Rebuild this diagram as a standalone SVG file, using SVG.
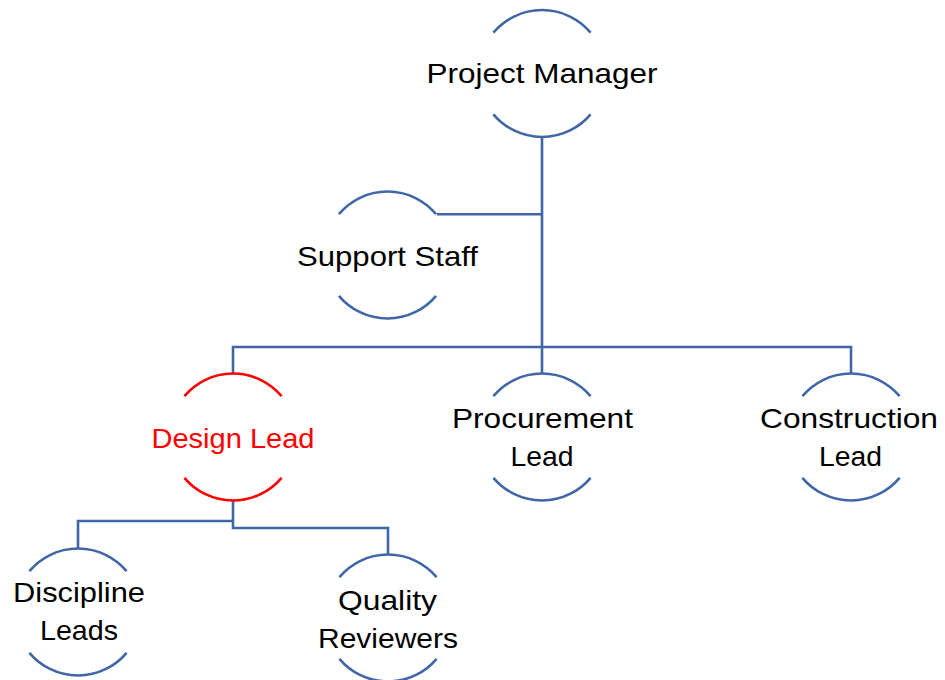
<svg xmlns="http://www.w3.org/2000/svg" xmlns:xlink="http://www.w3.org/1999/xlink" width="945" height="680" viewBox="0 0 945 680">
  <style>
    .arc { fill: none; stroke: #4066A8; stroke-width: 2.6; }
    .arc.hi { stroke: #FF0000; }
    .link { fill: none; stroke: #4066A8; stroke-width: 2.6; }
    .lbl { font-family: "Liberation Sans", Arial, sans-serif; font-size: 28px; fill: #000; text-anchor: middle; }
    .lbl.hi { fill: #FF0000; }
  </style>
  <defs>
    <!-- upper and lower circle arcs framing each role -->
    <path id="arcTop" d="M-48.6,-40.8 A63.5,63.5 0 0 1 48.6,-40.8"/>
    <path id="arcBot" d="M-48.6,40.8 A63.5,63.5 0 0 0 48.6,40.8"/>
  </defs>
  <rect width="945" height="680" fill="#FFFFFF"/>

  <g id="connectors">
    <path class="link" d="M542,137 V347"/>
    <path class="link" d="M437,214.2 H542"/>
    <path class="link" d="M233,373 V347 H851 V373"/>
    <path class="link" d="M542,347 V373"/>
    <path class="link" d="M233,501 V528 H388 V554"/>
    <path class="link" d="M233,521 H78 V548"/>
  </g>

  <g id="project-manager">
    <use href="#arcTop" xlink:href="#arcTop" class="arc" x="542" y="73.5"/>
    <use href="#arcBot" xlink:href="#arcBot" class="arc" x="542" y="73.5"/>
    <text class="lbl" x="542" y="83" textLength="231" lengthAdjust="spacingAndGlyphs">Project Manager</text>
  </g>

  <g id="support-staff">
    <use href="#arcTop" xlink:href="#arcTop" class="arc" x="387.5" y="255"/>
    <use href="#arcBot" xlink:href="#arcBot" class="arc" x="387.5" y="255"/>
    <text class="lbl" x="387.5" y="266" textLength="181" lengthAdjust="spacingAndGlyphs">Support Staff</text>
  </g>

  <g id="design-lead">
    <use href="#arcTop" xlink:href="#arcTop" class="arc hi" x="233" y="437"/>
    <use href="#arcBot" xlink:href="#arcBot" class="arc hi" x="233" y="437"/>
    <text class="lbl hi" x="233" y="448" textLength="163" lengthAdjust="spacingAndGlyphs">Design Lead</text>
  </g>

  <g id="procurement-lead">
    <use href="#arcTop" xlink:href="#arcTop" class="arc" x="542" y="437"/>
    <use href="#arcBot" xlink:href="#arcBot" class="arc" x="542" y="437"/>
    <text class="lbl" x="542.5" y="428" textLength="181" lengthAdjust="spacingAndGlyphs">Procurement</text>
    <text class="lbl" x="542" y="466" textLength="63" lengthAdjust="spacingAndGlyphs">Lead</text>
  </g>

  <g id="construction-lead">
    <use href="#arcTop" xlink:href="#arcTop" class="arc" x="851" y="437"/>
    <use href="#arcBot" xlink:href="#arcBot" class="arc" x="851" y="437"/>
    <text class="lbl" x="849" y="428" textLength="178" lengthAdjust="spacingAndGlyphs">Construction</text>
    <text class="lbl" x="850.5" y="466" textLength="63" lengthAdjust="spacingAndGlyphs">Lead</text>
  </g>

  <g id="discipline-leads">
    <use href="#arcTop" xlink:href="#arcTop" class="arc" x="78" y="612"/>
    <use href="#arcBot" xlink:href="#arcBot" class="arc" x="78" y="612"/>
    <text class="lbl" x="79" y="602" textLength="132" lengthAdjust="spacingAndGlyphs">Discipline</text>
    <text class="lbl" x="79" y="640" textLength="78" lengthAdjust="spacingAndGlyphs">Leads</text>
  </g>

  <g id="quality-reviewers">
    <use href="#arcTop" xlink:href="#arcTop" class="arc" x="388" y="618"/>
    <use href="#arcBot" xlink:href="#arcBot" class="arc" x="388" y="618"/>
    <text class="lbl" x="387.5" y="610" textLength="99" lengthAdjust="spacingAndGlyphs">Quality</text>
    <text class="lbl" x="388" y="648" textLength="140" lengthAdjust="spacingAndGlyphs">Reviewers</text>
  </g>
</svg>
